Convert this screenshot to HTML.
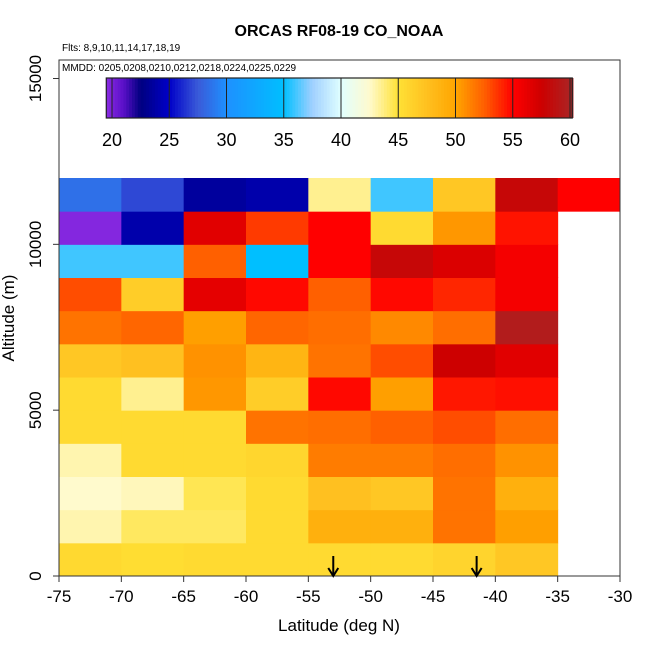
<!DOCTYPE html>
<html><head><meta charset="utf-8"><style>
body{margin:0;background:#fff}
svg{font-family:"Liberation Sans",sans-serif}
</style></head><body>
<svg id="c" width="650" height="650" viewBox="0 0 650 650"></svg>
<script>
// data (rows bottom 0-1000 m to top 11000-12000 m; columns lat -75..-30 in 5° bins)
const latBins = [-75,-70,-65,-60,-55,-50,-45,-40,-35];
const altBins = [0,1000,2000,3000,4000,5000,6000,7000,8000,9000,10000,11000];
const row0  = [45.6,45.3,45.5,45.5,45.5,45.5,46,47];
const row1  = [43,44.3,44.3,45.5,49,49,51.8,50.2];
const row2  = [42.5,42.8,44.5,45.5,47.5,47,51.8,49];
const row3  = [43,45.5,45.5,45.8,51.5,51.5,52,50.7];
const row4  = [45.5,45.5,45.5,51.8,52,52.5,53,52];
const row5  = [45.5,43.5,50.5,46.5,54.8,50.2,54.4,54.6];
const row6  = [47,47.5,50.7,48.5,51.8,53,57.5,56.5];
const row7  = [51.8,52.3,50.2,52.3,52,51,52,59.5];
const row8  = [53,46.5,56.3,54.8,52.5,54.8,54,55.5];
const row9  = [36,36,52.5,35,55,58,56.8,55.5];
const row10 = [19.7,24,56.5,53.5,55,45.5,50.5,54.5];
const row11 = [28.5,27,23.5,24,43.5,36,47,58,55];
const xTicks = [-75,-70,-65,-60,-55,-50,-45,-40,-35,-30];
const yTicks = [0,5000,10000,15000];
const cbTicks = [20,25,30,35,40,45,50,55,60];
const arrowLats = [-53,-41.5];

const rows=[row0,row1,row2,row3,row4,row5,row6,row7,row8,row9,row10,row11];
const NS="http://www.w3.org/2000/svg", svg=document.getElementById('c');
function X(v){return 59+(v+75)*(561/45);}
function Y(v){return 576-v*(398/12000);}
function CB(v){return 112+(v-20)*(458/40);}
const stops=[[19.5,[138,43,226]],[21,[90,16,200]],[22.5,[0,0,128]],[25,[0,0,200]],[27.5,[58,90,216]],[30,[30,144,255]],[35,[0,191,255]],[37.5,[160,208,255]],[40,[224,255,255]],[42.5,[255,250,205]],[45,[255,225,53]],[47.5,[255,192,32]],[50,[255,165,0]],[52.5,[255,96,0]],[55,[255,0,0]],[57.5,[205,0,0]],[60.5,[165,42,42]]];
function col(v){
  if(v<=stops[0][0])return 'rgb('+stops[0][1]+')';
  for(let i=1;i<stops.length;i++){if(v<=stops[i][0]){const a=stops[i-1],b=stops[i],t=(v-a[0])/(b[0]-a[0]);
    return 'rgb('+a[1].map((c,k)=>Math.round(c+(b[1][k]-c)*t)).join(',')+')';}}
  return 'rgb('+stops[stops.length-1][1]+')';
}
function el(t,a,p){const e=document.createElementNS(NS,t);for(const k in a)e.setAttribute(k,a[k]);(p||svg).appendChild(e);return e;}

// cells
rows.forEach((r,ri)=>{r.forEach((v,ci)=>{
  const x0=X(latBins[ci]),x1=X(latBins[ci]+5),y1=Y(altBins[ri]),y0=Y(altBins[ri]+1000);
  const e=el('rect',{x:x0,y:y0,width:x1-x0+0.5,height:y1-y0+0.5,fill:col(v)});
  
  
});});

// plot box
const box=el('rect',{x:59,y:60,width:561,height:516,fill:'none',stroke:'#333','stroke-width':1});


// colorbar
const cbg=el('g',{});
for(let v=19.5;v<60.2;v+=0.25){el('rect',{x:CB(v),y:78,width:458/160+0.6,height:40,fill:col(v+0.125)},cbg);}
el('rect',{x:CB(19.5),y:78,width:CB(60.2)-CB(19.5),height:40,fill:'none',stroke:'#222','stroke-width':1.2},cbg);
cbTicks.forEach(t=>{el('line',{x1:CB(t),x2:CB(t),y1:78,y2:118,stroke:'#222','stroke-width':1},cbg);
  const tx=el('text',{x:CB(t),y:146,'font-size':18,'text-anchor':'middle'},cbg);tx.textContent=t;
  });

// axes
xTicks.forEach(t=>{el('line',{x1:X(t),x2:X(t),y1:576,y2:582,stroke:'#333'});
  const tx=el('text',{x:X(t),y:602,'font-size':17,'text-anchor':'middle'});tx.textContent=t;
  });
yTicks.forEach(t=>{el('line',{x1:53,x2:59,y1:Y(t),y2:Y(t),stroke:'#333'});
  const tx=el('text',{x:0,y:0,'font-size':17,'text-anchor':'middle',transform:'translate(41,'+Y(t)+') rotate(-90)'});tx.textContent=t;
  });

// arrows
arrowLats.forEach(a=>{const g=el('g',{});
  el('line',{x1:X(a),x2:X(a),y1:556,y2:576,stroke:'#000','stroke-width':2},g);
  el('polyline',{points:(X(a)-5)+',568 '+X(a)+',576 '+(X(a)+5)+',568',fill:'none',stroke:'#000','stroke-width':2},g);});
</script>
<svg width="650" height="650" style="position:absolute;left:0;top:0" font-family="Liberation Sans, sans-serif">
<text x="339" y="36" font-size="16" font-weight="bold" text-anchor="middle">ORCAS RF08-19 CO_NOAA</text>
<text x="62" y="51" font-size="10">Flts: 8,9,10,11,14,17,18,19</text>
<text x="62" y="71" font-size="10">MMDD: 0205,0208,0210,0212,0218,0224,0225,0229</text>
<text x="339" y="631" font-size="17" text-anchor="middle">Latitude (deg N)</text>
<text transform="translate(14,318) rotate(-90)" font-size="17" text-anchor="middle">Altitude (m)</text>
</svg>
</body></html>
